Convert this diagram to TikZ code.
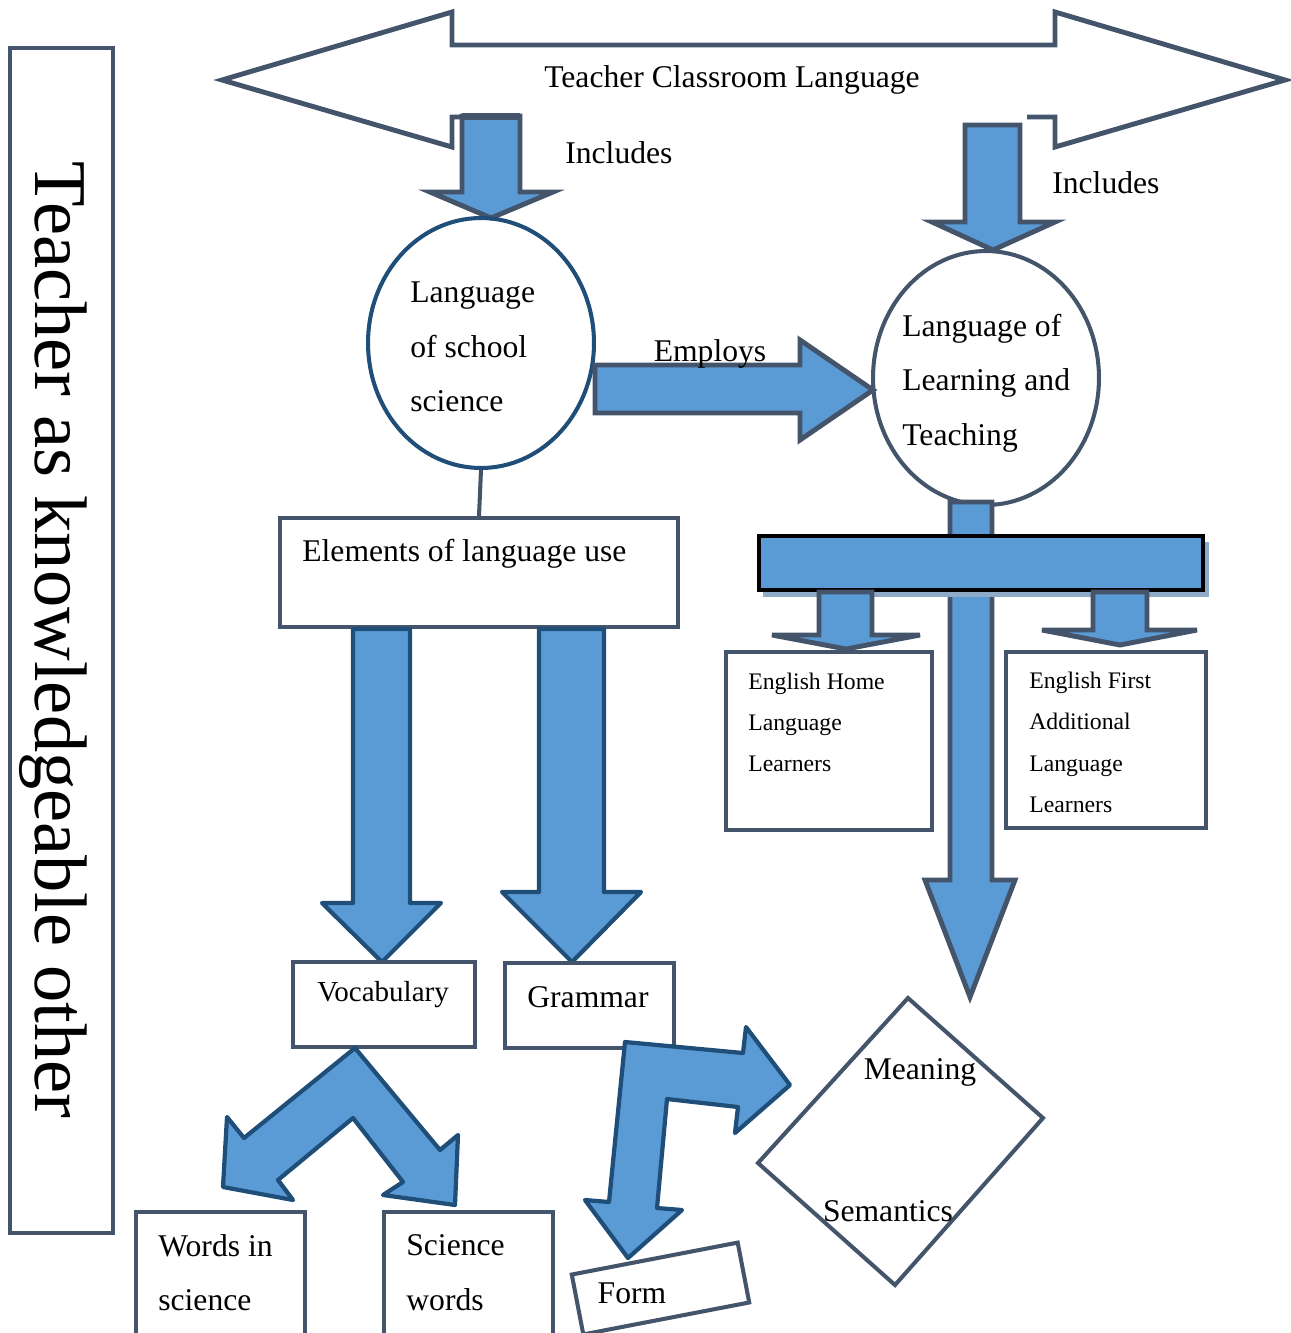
\documentclass[tikz,border=0pt]{standalone}
\usepackage{fontspec}
\setmainfont{Liberation Serif}
\usetikzlibrary{shapes.geometric}
\definecolor{edgeC}{RGB}{68,84,106}
\definecolor{navyC}{RGB}{31,78,121}
\definecolor{fillC}{RGB}{91,155,213}
\definecolor{shadowC}{RGB}{143,170,198}
\begin{document}
\begin{tikzpicture}[x=0.02cm,y=-0.02cm,
  outline/.style={draw=edgeC, line width=2.8pt, line join=miter},
  blockarrow/.style={fill=fillC, draw=edgeC, line width=2.8pt, line join=miter},
  navyarrow/.style={fill=fillC, draw=navyC, line width=2.4pt, line join=round},
  box/.style={draw=edgeC, line width=2.3pt, fill=white, inner sep=0pt},
  lbl/.style={inner sep=0pt, yshift=-1.6pt, font=\fontsize{18}{31}\selectfont, align=left},
  smalllbl/.style={inner sep=0pt, yshift=-0.8pt, font=\fontsize{13.5}{23.6}\selectfont, align=left}]
\useasboundingbox (0,0) rectangle (1291,1333);
\clip (0,0) rectangle (1291,1333);

% side panel
\node[box, minimum width=2.06cm, minimum height=23.7cm] (side) at (61.5,640.5) {};
\node[inner sep=0pt, rotate=-90, font=\fontsize{42.4}{50}\selectfont] (sidetext) at (53,640) {Teacher as knowledgeable other};

% double-headed banner arrow
\draw[outline] (460,117) -- (452,117) -- (452,147) -- (222,80) -- (452,12) -- (452,45)
  -- (1055,45) -- (1055,12) -- (1285,80) -- (1055,147) -- (1055,117) -- (1027,117);
\node[lbl] (title) at (732,77) {Teacher Classroom Language};

% "includes" arrows
\draw[blockarrow] (462,116) -- (520,116) -- (520,192) -- (553,192) -- (491,218) -- (430,192) -- (462,192) -- cycle;
\fill[edgeC] (462,113) rectangle (520,120);
\draw[blockarrow] (965,125) -- (1020,125) -- (1020,222) -- (1055,222) -- (993,250) -- (932,222) -- (965,222) -- cycle;
\node[lbl, anchor=west] (inc1) at (565,150) {Includes};
\node[lbl, anchor=west] (inc2) at (1052,180) {Includes};

% the two circles
\node[ellipse, draw=navyC, line width=2.3pt, minimum width=4.52cm, minimum height=5cm, inner sep=0pt] (c1) at (481,343) {};
\node[lbl, anchor=west] (c1text) at (410,344) {Language\\of school\\science};
\node[ellipse, draw=edgeC, line width=2.3pt, minimum width=4.52cm, minimum height=5.08cm, inner sep=0pt] (c2) at (986,378) {};
\node[lbl, anchor=west] (c2text) at (902,380) {Language of\\Learning and\\Teaching};

% employs arrow
\draw[blockarrow] (595,365) -- (800,365) -- (800,340) -- (873,390) -- (800,440) -- (800,413) -- (595,413) -- cycle;
\node[lbl] (employs) at (710,351) {Employs};

% long arrow down to the diamond
\draw[blockarrow] (950,502) -- (992,502) -- (992,880) -- (1015,880) -- (970,997) -- (925,880) -- (950,880) -- cycle;

% distribution bar
\fill[shadowC] (763,542) rectangle (1209,597);
\draw[fill=fillC, draw=black, line width=2.8pt] (759,536) rectangle (1203,590);
\draw[blockarrow] (819,592) -- (872,592) -- (872,635) -- (920,635) -- (846,649) -- (772,635) -- (819,635) -- cycle;
\draw[blockarrow] (1093,592) -- (1147,592) -- (1147,630) -- (1197,630) -- (1120,645) -- (1042,630) -- (1093,630) -- cycle;

\node[box, minimum width=4.12cm, minimum height=3.56cm] (home) at (829,741) {};
\node[smalllbl, anchor=west] (hometext) at (748,721) {English Home\\Language\\Learners};
\node[box, minimum width=4.0cm, minimum height=3.52cm] (first) at (1106,740) {};
\node[smalllbl, anchor=west] (firsttext) at (1029,741) {English First\\Additional\\Language\\Learners};

% elements of language use
\node[box, minimum width=7.96cm, minimum height=2.18cm] (elem) at (479,572.5) {};
\node[lbl, anchor=west] (elemtext) at (302,551) {Elements of language use};
\draw[draw=edgeC, line width=2.3pt] (c1.south) -- (elem.north);

\draw[navyarrow] (353,629) -- (410,629) -- (410,903) -- (441,903) -- (382,962) -- (322,903) -- (353,903) -- cycle;
\draw[navyarrow] (539,629) -- (604,629) -- (604,892) -- (641,892) -- (572,962) -- (502,892) -- (539,892) -- cycle;

\node[box, minimum width=3.64cm, minimum height=1.7cm] (vocab) at (384,1004.5) {};
\node[inner sep=0pt, yshift=-1.5pt, font=\fontsize{16.5}{20}\selectfont] (vocabtext) at (383,992) {Vocabulary};
\node[box, minimum width=3.38cm, minimum height=1.7cm] (gram) at (589.5,1005.5) {};
\node[lbl, anchor=west] (gramtext) at (527,994) {Grammar};

% split arrow under vocabulary
\draw[navyarrow] (355,1048) -- (440,1150) -- (458,1135) -- (455,1205) -- (383,1195) -- (403,1182)
  -- (353,1118) -- (278,1180) -- (293,1200) -- (223,1187) -- (227,1117) -- (244,1138) -- cycle;

\node[box, minimum width=3.38cm, minimum height=2.66cm] (words1) at (220.5,1278.5) {};
\node[lbl, anchor=west] (words1text) at (158,1270) {Words in\\science};
\node[box, minimum width=3.38cm, minimum height=2.66cm] (words2) at (468.5,1278.5) {};
\node[lbl, anchor=west] (words2text) at (406,1270) {Science\\words};

% bent arrow from grammar
\draw[navyarrow] (625,1042) -- (743,1053) -- (746,1027) -- (790,1085) -- (735,1133) -- (738,1107)
  -- (667,1099) -- (657,1208) -- (682,1210) -- (628,1258) -- (585,1200) -- (609,1202) -- cycle;

\node[box, rotate=10.9, minimum width=3.38cm, minimum height=1.22cm] (form) at (660.5,1288.5) {};
\node[lbl] (formtext) at (632,1290) {Form};

% meaning / semantics diamond
\coordinate (dtop) at (908,998);
\coordinate (dright) at (1043,1118);
\coordinate (dbottom) at (895,1285);
\coordinate (dleft) at (758,1163);
\draw[draw=edgeC, line width=2.3pt] (dtop) -- (dright) -- (dbottom) -- (dleft) -- cycle;
\node[lbl] (meaning) at (920,1070) {Meaning};
\node[lbl] (semantics) at (888,1208) {Semantics};
\end{tikzpicture}
\end{document}
